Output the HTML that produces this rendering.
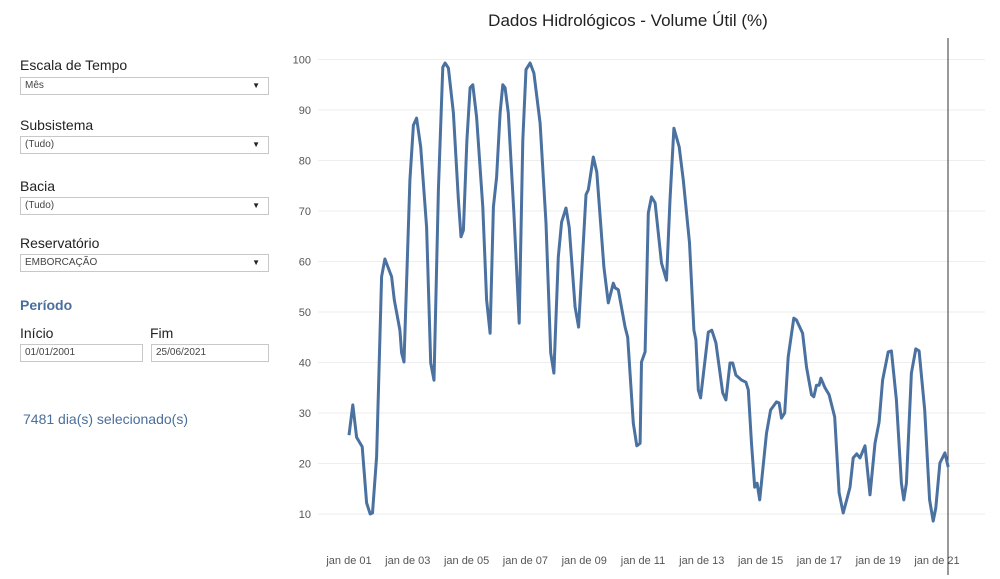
<!DOCTYPE html>
<html><head><meta charset="utf-8"><style>
body{margin:0;width:1000px;height:579px;background:#fff;font-family:"Liberation Sans",sans-serif;position:relative;overflow:hidden}
.lbl{position:absolute;left:20px;font-size:14px;color:#222}
.box{position:absolute;left:20px;width:246px;height:16px;border:1px solid #c8c8c8;font-size:10px;color:#444;line-height:16px;padding-left:4px;box-sizing:content-box}
.box .arr{position:absolute;right:8px;top:0;font-size:8px;color:#222}
</style></head><body>
<div class="lbl" style="top:57px">Escala de Tempo</div>
<div class="box" style="top:77px;width:243px">Mês<span class="arr">▼</span></div>
<div class="lbl" style="top:117px">Subsistema</div>
<div class="box" style="top:136px;width:243px">(Tudo)<span class="arr">▼</span></div>
<div class="lbl" style="top:178px">Bacia</div>
<div class="box" style="top:197px;width:243px">(Tudo)<span class="arr">▼</span></div>
<div class="lbl" style="top:235px">Reservatório</div>
<div class="box" style="top:254px;width:243px">EMBORCAÇÃO<span class="arr">▼</span></div>
<div class="lbl" style="top:297px;color:#4a6f9c;font-weight:bold">Período</div>
<div class="lbl" style="top:325px">Início</div>
<div class="lbl" style="top:325px;left:150px">Fim</div>
<div class="box" style="top:344px;width:117px">01/01/2001</div>
<div class="box" style="top:344px;left:151px;width:112px">25/06/2021</div>
<div class="lbl" style="top:411px;left:23px;color:#4a6f9c">7481 dia(s) selecionado(s)</div>
<svg id="chart" width="1000" height="579" style="position:absolute;left:0;top:0">
<text x="628" y="26" text-anchor="middle" font-size="17" fill="#222">Dados Hidrológicos - Volume Útil (%)</text>
<g id="grid"></g><g id="xt"></g>
<line x1="948" y1="38" x2="948" y2="575" stroke="#333" stroke-width="1"/>
<polyline id="line" fill="none" stroke="#4a71a0" stroke-width="3" stroke-linejoin="round"/>
</svg>
<script>
const dates=[2001.0,2001.13,2001.26,2001.45,2001.6,2001.72,2001.8,2001.94,2002.11,2002.22,2002.45,2002.54,2002.73,2002.79,2002.87,2003.07,2003.19,2003.3,2003.44,2003.64,2003.78,2003.89,2004.04,2004.19,2004.27,2004.38,2004.55,2004.72,2004.81,2004.89,2005.01,2005.12,2005.21,2005.34,2005.55,2005.68,2005.8,2005.91,2006.02,2006.14,2006.23,2006.31,2006.42,2006.61,2006.79,2006.91,2007.02,2007.16,2007.29,2007.5,2007.7,2007.86,2007.97,2008.12,2008.23,2008.38,2008.49,2008.69,2008.81,2009.06,2009.14,2009.31,2009.43,2009.67,2009.82,2009.99,2010.05,2010.16,2010.39,2010.48,2010.67,2010.79,2010.9,2010.95,2011.07,2011.18,2011.29,2011.41,2011.63,2011.8,2011.92,2012.05,2012.23,2012.37,2012.58,2012.73,2012.8,2012.88,2012.96,2013.22,2013.34,2013.48,2013.71,2013.82,2013.96,2014.05,2014.16,2014.36,2014.5,2014.58,2014.69,2014.8,2014.88,2014.97,2015.2,2015.34,2015.54,2015.63,2015.71,2015.82,2015.94,2016.13,2016.22,2016.43,2016.56,2016.73,2016.81,2016.9,2016.99,2017.05,2017.19,2017.33,2017.52,2017.67,2017.81,2017.93,2018.04,2018.15,2018.27,2018.38,2018.55,2018.72,2018.89,2019.03,2019.15,2019.34,2019.45,2019.62,2019.79,2019.87,2019.96,2020.13,2020.28,2020.39,2020.58,2020.75,2020.87,2020.96,2021.1,2021.27,2021.38];
const values=[25.6,31.6,25.2,23.3,12.2,10,10.2,21.3,57,60.5,57,52.4,46.4,41.9,40.1,76.1,87,88.4,82.7,66.8,39.9,36.5,74.2,98.5,99.3,98.3,89.4,72.2,64.9,66.2,84,94.4,95,88.6,70.8,52.4,45.8,70.8,76.7,89.4,95,94.4,89.4,69.6,47.8,84,98,99.3,97.3,87.4,67.6,41.9,37.9,60.9,67.8,70.6,66.8,51,47,73.2,74.2,80.7,77.7,58.9,51.8,55.7,54.8,54.4,47,45,28,23.5,24,40.1,42.1,69.6,72.8,71.6,59.7,56.3,72.2,86.4,82.7,76.1,63.7,46.4,44.5,34.6,33,46,46.4,43.9,34,32.6,39.9,39.9,37.5,36.5,36.1,34.6,24,15.3,16.1,12.8,26,30.6,32.2,32,29,30,41.1,48.8,48.4,45.8,39.1,33.6,33.2,35.5,35.5,36.9,35,33.6,29.2,14.2,10.2,12.8,15.3,21.1,21.9,21.1,23.5,13.8,24,28.2,36.5,42.1,42.3,32.6,16.1,12.8,16.1,37.9,42.7,42.3,30.6,12.8,8.6,11.2,20.1,22.1,19.3];
const yTicks=[10,20,30,40,50,60,70,80,90,100];
const xTickYears=[2001,2003,2005,2007,2009,2011,2013,2015,2017,2019,2021];
const xTickLabels=["jan de 01","jan de 03","jan de 05","jan de 07","jan de 09","jan de 11","jan de 13","jan de 15","jan de 17","jan de 19","jan de 21"];
const X=t=>349+(t-2001)*29.4, Y=v=>514-(v-10)*5.05;
const NS="http://www.w3.org/2000/svg";
const grid=document.getElementById('grid');
yTicks.forEach(v=>{
 const l=document.createElementNS(NS,'line');
 l.setAttribute('x1',318);l.setAttribute('x2',985);l.setAttribute('y1',Y(v));l.setAttribute('y2',Y(v));
 l.setAttribute('stroke','#eeeeee');
 
 
 grid.appendChild(l);
 const t=document.createElementNS(NS,'text');
 t.setAttribute('x',311);t.setAttribute('y',Y(v)+4);t.setAttribute('text-anchor','end');
 t.setAttribute('font-size','11');t.setAttribute('fill','#555');t.textContent=v;
 
 
 grid.appendChild(t);
});
const xt=document.getElementById('xt');
xTickYears.forEach((yr,i)=>{
 const t=document.createElementNS(NS,'text');
 t.setAttribute('x',X(yr));t.setAttribute('y',564);t.setAttribute('text-anchor','middle');
 t.setAttribute('font-size','11');t.setAttribute('fill','#555');t.textContent=xTickLabels[i];
 
 
 xt.appendChild(t);
});
document.getElementById('line').setAttribute('points',dates.map((d,i)=>X(d).toFixed(1)+','+Y(values[i]).toFixed(1)).join(' '));
</script>
</body></html>
